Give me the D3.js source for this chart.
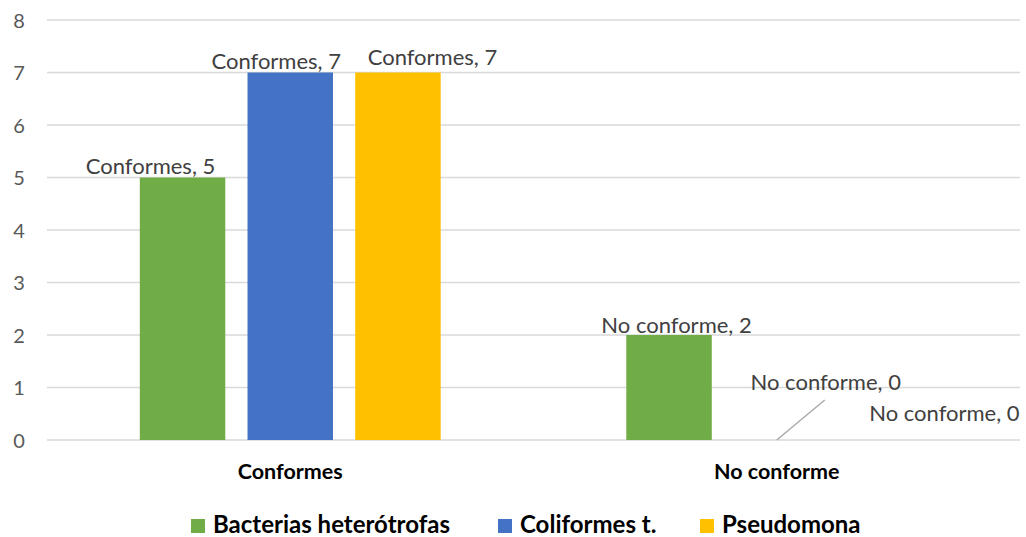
<!DOCTYPE html>
<html>
<head>
<meta charset="utf-8">
<script src="https://cdn.jsdelivr.net/npm/d3@7"></script>
<style>
  body { margin: 0; background: #fff; }
  svg { display: block; font-family: Lato, "Noto Sans", sans-serif; }
</style>
</head>
<body>
<svg id="chart" width="1026" height="537"></svg>
<script>
// Categories, series and values
const categories = ["Conformes", "No conforme"];
const seriesNames = ["Bacterias heterótrofas", "Coliformes t.", "Pseudomona"];
const bacteriasValues = [5, 2];
const coliformesValues = [7, 0];
const pseudomonaValues = [7, 0];
const yTicks = [0, 1, 2, 3, 4, 5, 6, 7, 8];

const seriesValues = [bacteriasValues, coliformesValues, pseudomonaValues];
const colors = ["#70AD47", "#4472C4", "#FFC000"];

// Data label placement: offset of the label centre / baseline from the bar centre / bar top
const labelOffsets = [
  [{dx: -32, dy: -3.5}, {dx: 7.5, dy: -2}],
  [{dx: -14, dy: -3.5}, {dx: 49, dy: -50}],
  [{dx: 34.5, dy: -7.5}, {dx: 60, dy: -19}]
];

const svg = d3.select("#chart");
const margin = {left: 47, right: 6, top: 20, bottom: 97};
const W = 1026, H = 537;
const plotW = W - margin.left - margin.right;
const plotH = H - margin.top - margin.bottom;

const g = svg.append("g").attr("transform", `translate(${margin.left},${margin.top})`);

const y = d3.scaleLinear().domain([0, 8]).range([plotH, 0]);
const x0 = d3.scaleBand().domain(categories).range([0, plotW]).paddingInner(0).paddingOuter(0);

// Bar geometry within each category band
const barW = x0.bandwidth() * 0.1757;
const barGap = barW * 0.26;
const groupW = 3 * barW + 2 * barGap;

// Gridlines
g.append("g")
  .selectAll("line")
  .data(yTicks)
  .join("line")
  .attr("x1", 0).attr("x2", plotW)
  .attr("y1", d => y(d)).attr("y2", d => y(d))
  .attr("stroke", "#d9d9d9").attr("stroke-width", 1.3);

// Y axis labels
const yAxis = d3.axisLeft(y).tickValues(yTicks).tickSize(0).tickPadding(0);
const ya = g.append("g").attr("transform", "translate(-28,0)").call(yAxis);
ya.select(".domain").remove();
ya.selectAll("text")
  .attr("fill", "#595959")
  .attr("font-size", "20px")
  .attr("text-anchor", "middle")
  .attr("dy", "0.36em")
  .attr("font-family", "Lato, 'Noto Sans', sans-serif");

// Bars
const barX = (ci, si) => x0(categories[ci]) + x0.bandwidth() / 2 - groupW / 2 + si * (barW + barGap);

seriesValues.forEach((vals, si) => {
  g.append("g")
    .selectAll("rect")
    .data(vals)
    .join("rect")
    .attr("x", (d, ci) => barX(ci, si))
    .attr("y", d => y(d))
    .attr("width", barW)
    .attr("height", d => plotH - y(d))
    .attr("fill", colors[si]);
});

// Leader line from the zero-height Coliformes bar to its label
{
  const cx = barX(1, 1) + barW / 2;
  g.append("line")
    .attr("x1", cx).attr("y1", y(coliformesValues[1]))
    .attr("x2", cx + 48).attr("y2", y(coliformesValues[1]) - 40)
    .attr("stroke", "#a6a6a6").attr("stroke-width", 1.3);
}

// Data labels
seriesValues.forEach((vals, si) => {
  vals.forEach((v, ci) => {
    const cx = barX(ci, si) + barW / 2;
    const off = labelOffsets[si][ci];
    g.append("text")
      .attr("x", cx + off.dx).attr("y", y(v) + off.dy)
      .attr("text-anchor", "middle")
      .attr("fill", "#404040")
      .attr("font-size", "22px")
      .text(`${categories[ci]}, ${v}`);
  });
});

// Category labels
g.append("g")
  .selectAll("text")
  .data(categories)
  .join("text")
  .attr("x", d => x0(d) + x0.bandwidth() / 2)
  .attr("y", plotH + 39)
  .attr("text-anchor", "middle")
  .attr("font-weight", "bold")
  .attr("font-size", "21.5px")
  .attr("fill", "#000")
  .text(d => d);

// Legend
const legendX = [191, 498, 700];
const lg = svg.append("g");
seriesNames.forEach((name, i) => {
  lg.append("rect")
    .attr("x", legendX[i]).attr("y", 519)
    .attr("width", 14).attr("height", 14)
    .attr("fill", colors[i]);
  lg.append("text")
    .attr("x", legendX[i] + 22).attr("y", 533)
    .attr("font-weight", "bold")
    .attr("font-size", "24px")
    .attr("fill", "#000")
    .text(name);
});
</script>
</body>
</html>
